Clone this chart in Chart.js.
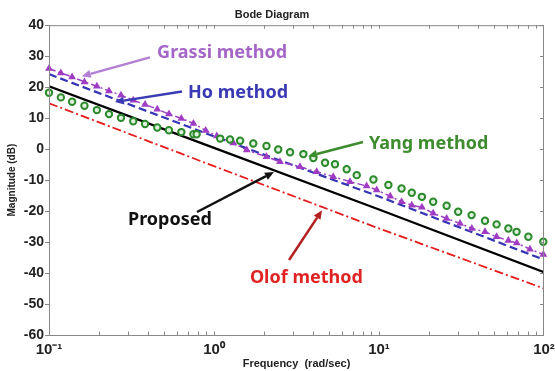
<!doctype html>
<html>
<head>
<title>Bode Diagram</title>
<style>
  body { margin: 0; background: #fff; }
  #chart { display: block; }
</style>
</head>
<body>
<canvas id="chart" width="555" height="371"></canvas>
<script src="https://cdn.jsdelivr.net/npm/chart.js"></script>
<script>
// values (frequency in rad/sec, magnitude in dB)
const propFreq = [0.1, 1, 10, 100];
const propMag = [20.3, 0.4, -19.5, -39.7];

const olofFreq = [0.1, 1, 10, 100];
const olofMag = [14.8, -5.5, -25.6, -45.0];

const hoFreq = [0.1, 1, 10, 100];
const hoMag = [24.2, 4.1, -15.3, -35.7];

const grassiFreq = [0.1, 0.118, 0.138, 0.164, 0.195, 0.231, 0.273, 0.324, 0.382, 0.453, 0.533, 0.634, 0.75, 0.891,
  1.04, 1.31, 1.58, 2.08, 2.51, 3.32, 4.19, 5.28, 6.67, 8.41, 9.68, 11.7, 13.7, 15.8, 18.2, 21.3, 25.7, 31.0,
  36.5, 43.9, 51.6, 60.8, 68.4, 82.2, 99.1];
const grassiMag = [26.0, 24.6, 23.3, 21.7, 20.3, 18.8, 17.4, 15.8, 14.4, 12.9, 11.3, 9.9, 8.3, 6.0,
  4.2, 2.0, -0.3, -2.5, -4.1, -5.7, -7.3, -8.9, -10.5, -11.9, -13.2, -15.2, -17.0, -18.1, -18.8, -20.7, -22.4, -24.0,
  -25.6, -26.7, -28.3, -29.5, -30.3, -32.3, -34.0];

const yangFreq = [0.1, 0.118, 0.138, 0.164, 0.195, 0.231, 0.273, 0.324, 0.382, 0.453, 0.533, 0.634, 0.75, 0.785,
  1.09, 1.25, 1.44, 1.73, 2.08, 2.45, 2.89, 3.48, 4.0, 4.71, 5.41, 6.37, 7.33, 9.25, 11.4, 13.7, 15.8, 18.2,
  21.3, 25.7, 30.2, 36.4, 43.9, 51.6, 60.8, 68.2, 80.4, 99];
const yangMag = [18.2, 16.7, 15.3, 14.0, 12.6, 11.3, 10.1, 9.0, 8.1, 7.0, 6.1, 5.5, 4.8, 4.8,
  3.4, 3.1, 2.7, 1.8, 1.0, -0.1, -1.0, -1.6, -2.9, -4.4, -4.9, -6.5, -8.4, -9.8, -11.6, -12.7, -14.1, -15.4,
  -17.0, -18.3, -20.2, -21.3, -23.1, -24.3, -25.6, -26.7, -28.3, -29.9];

const yTicks = [-60, -50, -40, -30, -20, -10, 0, 10, 20, 30, 40];
const decadeLabels = { '-1': '10⁻¹', '0': '10⁰', '1': '10¹', '2': '10²' };

// callouts: text anchor and arrow in data coordinates
const notes = [
  { text: 'Grassi method', color: '#a566c8', arrow: '#b27fd2', at: [0.452, 31.0], from: [0.409, 29.6], to: [0.158, 23.5] },
  { text: 'Ho method', color: '#3a3ab4', arrow: '#3a3ab4', at: [0.695, 18.1], from: [0.64, 18.6], to: [0.251, 15.2] },
  { text: 'Yang method', color: '#3d8c2e', arrow: '#3d8c2e', at: [8.69, 1.6], from: [8.0, 2.3], to: [3.72, -2.3] },
  { text: 'Proposed', color: '#111', arrow: '#111', at: [0.301, -22.9], from: [0.789, -20.3], to: [2.31, -7.4] },
  { text: 'Olof method', color: '#e02424', arrow: '#b42020', at: [1.65, -41.6], from: [2.85, -35.8], to: [4.52, -19.7] }
];

function pts(xs, ys) { return xs.map((x, i) => ({ x: x, y: ys[i] })); }

function isDecade(v) {
  const l = Math.log10(v);
  return Math.abs(l - Math.round(l)) < 1e-6;
}

// MATLAB style frame: small inward ticks on all sides + callouts
const frame = {
  id: 'frame',
  afterDraw(chart) {
    const { ctx, chartArea: a, scales: { x, y } } = chart;
    ctx.save();
    ctx.strokeStyle = '#888';
    ctx.lineWidth = 1;
    ctx.strokeRect(a.left + 0.5, a.top + 0.5, a.right - a.left - 1, a.bottom - a.top);
    ctx.beginPath();
    for (let d = -1; d < 2; d++) {
      for (let m = 1; m < 10; m++) {
        const px = Math.round(x.getPixelForValue(m * Math.pow(10, d))) + 0.5;
        ctx.moveTo(px, a.bottom); ctx.lineTo(px, a.bottom - 3.5);
        ctx.moveTo(px, a.top); ctx.lineTo(px, a.top + 3.5);
      }
    }
    yTicks.forEach(v => {
      const py = Math.round(y.getPixelForValue(v)) + 0.5;
      ctx.moveTo(a.left, py); ctx.lineTo(a.left - 4, py);
      ctx.moveTo(a.right, py); ctx.lineTo(a.right - 4, py);
    });
    ctx.stroke();

    notes.forEach(n => {
      const x0 = x.getPixelForValue(n.from[0]), y0 = y.getPixelForValue(n.from[1]);
      const x1 = x.getPixelForValue(n.to[0]), y1 = y.getPixelForValue(n.to[1]);
      const ang = Math.atan2(y1 - y0, x1 - x0);
      const hl = 9, hw = 4;
      ctx.strokeStyle = n.arrow;
      ctx.fillStyle = n.arrow;
      ctx.lineWidth = 2.5;
      ctx.beginPath();
      ctx.moveTo(x0, y0);
      ctx.lineTo(x1 - hl * Math.cos(ang), y1 - hl * Math.sin(ang));
      ctx.stroke();
      ctx.beginPath();
      ctx.moveTo(x1, y1);
      ctx.lineTo(x1 - hl * Math.cos(ang) + hw * Math.sin(ang), y1 - hl * Math.sin(ang) - hw * Math.cos(ang));
      ctx.lineTo(x1 - hl * Math.cos(ang) - hw * Math.sin(ang), y1 - hl * Math.sin(ang) + hw * Math.cos(ang));
      ctx.closePath();
      ctx.fill();

      ctx.font = 'bold 18px "Noto Sans"';
      ctx.fillStyle = n.color;
      ctx.textAlign = 'left';
      ctx.textBaseline = 'middle';
      ctx.fillText(n.text, x.getPixelForValue(n.at[0]), y.getPixelForValue(n.at[1]));
    });
    ctx.restore();
  }
};

const ctx = document.getElementById('chart').getContext('2d');
const chart = new Chart(ctx, {
  type: 'line',
  data: {
    datasets: [
      {
        label: 'Yang method', data: pts(yangFreq, yangMag), showLine: false, clip: 10,
        pointStyle: 'circle', pointRadius: 3.2, pointBorderWidth: 2,
        pointBorderColor: '#2b8a2b', pointBackgroundColor: '#dff0dc'
      },
      {
        label: 'Grassi method', data: pts(grassiFreq, grassiMag), clip: 10,
        borderColor: '#9b3fc0', borderWidth: 1.5, borderDash: [7, 3, 2, 3],
        pointStyle: 'triangle', pointRadius: 4.5, pointBorderWidth: 0,
        pointBackgroundColor: '#a03cc4'
      },
      {
        label: 'Ho method', data: pts(hoFreq, hoMag),
        borderColor: '#3434b4', borderWidth: 2.2, borderDash: [8, 4], pointRadius: 0
      },
      {
        label: 'Proposed', data: pts(propFreq, propMag),
        borderColor: '#000', borderWidth: 2.2, pointRadius: 0
      },
      {
        label: 'Olof method', data: pts(olofFreq, olofMag),
        borderColor: '#e41c1c', borderWidth: 1.8, borderDash: [9, 3, 2, 3], pointRadius: 0
      }
    ]
  },
  options: {
    responsive: false,
    animation: false,
    layout: { padding: { top: 0, right: 11, bottom: 0, left: 0 } },
    plugins: {
      legend: { display: false },
      tooltip: { enabled: false },
      title: {
        display: true, text: 'Bode Diagram', color: '#222',
        font: { family: 'Liberation Sans', weight: 'bold', size: 11 },
        padding: { top: 8, bottom: 4 }
      }
    },
    scales: {
      x: {
        type: 'logarithmic', min: 0.1, max: 100,
        grid: { display: false, drawTicks: false },
        border: { display: false },
        ticks: {
          autoSkip: false, maxRotation: 0, padding: 6, color: '#222',
          font: { family: 'Liberation Sans', weight: 'bold', size: 15 },
          callback: v => isDecade(v) ? decadeLabels[String(Math.round(Math.log10(v)))] : ''
        },
        title: {
          display: true, text: 'Frequency  (rad/sec)', color: '#222',
          font: { family: 'Liberation Sans', weight: 'bold', size: 11 },
          padding: { top: 0, bottom: 0 }
        },
        afterFit(s) { s.height = 36; s.paddingLeft = 0; s.paddingRight = 0; }
      },
      y: {
        min: -60, max: 40,
        grid: { display: false, drawTicks: false },
        border: { display: false },
        ticks: {
          stepSize: 10, padding: 5, color: '#222',
          font: { family: 'Liberation Sans', weight: 'bold', size: 14 }
        },
        title: {
          display: true, text: 'Magnitude (dB)', color: '#222',
          font: { family: 'Liberation Sans', weight: 'bold', size: 10 },
          padding: { top: 6, bottom: 0 }
        },
        afterFit(s) { s.width = 49; }
      }
    }
  },
  plugins: [frame]
});
</script>
</body>
</html>
